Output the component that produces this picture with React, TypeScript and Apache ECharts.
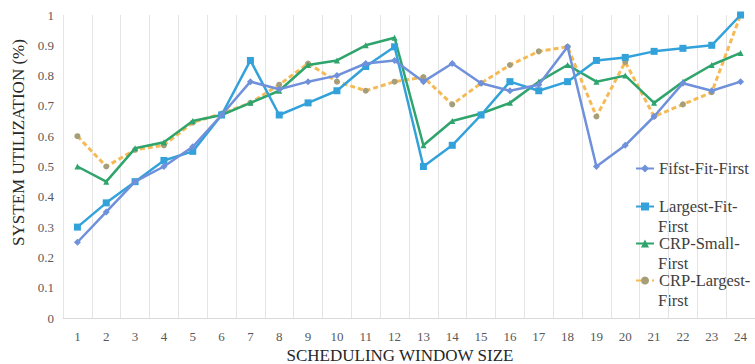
import React, { useEffect, useRef } from "react";
import * as echarts from "echarts";

const categories = ["1","2","3","4","5","6","7","8","9","10","11","12","13","14","15","16","17","18","19","20","21","22","23","24"];
const fifstFitFirst = [0.25,0.35,0.45,0.50,0.565,0.67,0.78,0.755,0.78,0.80,0.84,0.85,0.78,0.84,0.775,0.75,0.77,0.895,0.50,0.57,0.665,0.775,0.75,0.78];
const largestFitFirst = [0.30,0.38,0.45,0.52,0.55,0.67,0.85,0.67,0.71,0.75,0.83,0.895,0.50,0.57,0.67,0.78,0.75,0.78,0.85,0.86,0.88,0.89,0.90,1.00];
const crpSmallFirst = [0.50,0.45,0.56,0.58,0.65,0.67,0.71,0.75,0.835,0.85,0.90,0.925,0.57,0.65,0.675,0.71,0.78,0.835,0.78,0.80,0.71,0.78,0.835,0.875];
const crpLargestFirst = [0.60,0.50,0.555,0.57,0.645,0.675,0.71,0.77,0.84,0.78,0.75,0.78,0.795,0.705,0.775,0.835,0.88,0.895,0.665,0.845,0.665,0.705,0.745,1.00];
const yTicks = { min: 0, max: 1, interval: 0.1 };
const xTitle = "SCHEDULING WINDOW SIZE";
const yTitle = "SYSTEM UTILIZATION (%)";
const legendFirstLines = ["Fifst-Fit-First", "Largest-Fit-", "CRP-Small-", "CRP-Largest-"];
const legendSecondLines = ["", "First", "First", "First"];

const FONT = "Liberation Serif";

export default function App() {
  const ref = useRef<HTMLDivElement>(null);
  useEffect(() => {
    if (!ref.current) return;
    const chart = echarts.init(ref.current, undefined, { renderer: "svg" });
    const names = ["Fifst-Fit-First", "Largest-Fit-First", "CRP-Small-First", "CRP-Largest-First"];
    const firstLineCenters = [168, 206, 243, 280];
    const legends = names.map((n, i) => ({
      orient: "vertical" as const,
      left: 635,
      top: firstLineCenters[i] - 8,
      padding: 0,
      itemWidth: 18,
      itemHeight: 10,
      data: [{ name: n }],
      formatter: () => legendFirstLines[i],
      textStyle: { fontFamily: FONT, fontSize: 16.5, color: "#404040", lineHeight: 16 },
    }));
    const secondLineTexts = legendSecondLines
      .map((t, i) => ({ t, i }))
      .filter((o) => o.t)
      .map((o) => ({
        type: "text",
        x: 658,
        y: firstLineCenters[o.i] + 20,
        style: { text: o.t, fontFamily: FONT, fontSize: 16.5, lineHeight: 16, fill: "#404040", align: "left", verticalAlign: "middle" },
      }));
    chart.setOption({
      animation: false,
      backgroundColor: "#ffffff",
      grid: { left: 63, top: 15, width: 699, height: 303 },
      xAxis: {
        type: "category",
        data: categories,
        boundaryGap: true,
        axisTick: { show: false },
        axisLine: { lineStyle: { color: "#D9D9D9", width: 1 } },
        axisLabel: { fontFamily: FONT, fontSize: 13, color: "#595959", margin: 12, interval: 0 },
        splitLine: { show: true, interval: 0, lineStyle: { color: "#E4E4E4", width: 1 } },
      },
      yAxis: {
        type: "value",
        min: yTicks.min,
        max: yTicks.max,
        interval: yTicks.interval,
        axisLine: { show: false },
        axisTick: { show: false },
        splitLine: { show: false },
        axisLabel: { fontFamily: FONT, fontSize: 13, color: "#595959", margin: 9 },
      },
      legend: legends,
      graphic: [
        { type: "text", x: 400, y: 355, style: { text: xTitle, fontFamily: FONT, fontSize: 17, fill: "#262626", align: "center", verticalAlign: "middle" } },
        { type: "text", x: 18.5, y: 142.5, rotation: Math.PI / 2, style: { text: yTitle, fontFamily: FONT, fontSize: 17, fill: "#262626", align: "center", verticalAlign: "middle" } },
        ...secondLineTexts,
      ],
      series: [
        {
          name: "Fifst-Fit-First", type: "line", data: fifstFitFirst,
          symbol: "diamond", symbolSize: 7,
          lineStyle: { color: "#6F90DA", width: 2.5 },
          itemStyle: { color: "#6F90DA" }, z: 4,
        },
        {
          name: "Largest-Fit-First", type: "line", data: largestFitFirst,
          symbol: "rect", symbolSize: 7,
          lineStyle: { color: "#33A2DA", width: 2.5 },
          itemStyle: { color: "#33A2DA" }, z: 3,
        },
        {
          name: "CRP-Small-First", type: "line", data: crpSmallFirst,
          symbol: "triangle", symbolSize: 6,
          lineStyle: { color: "#2FA46C", width: 2.5 },
          itemStyle: { color: "#2FA46C" }, z: 2,
        },
        {
          name: "CRP-Largest-First", type: "line", data: crpLargestFirst,
          symbol: "circle", symbolSize: 6,
          lineStyle: { color: "#F5BA55", width: 3, type: [5, 3] },
          itemStyle: { color: "#A59E78" }, z: 1,
        },
      ],
    });
    return () => chart.dispose();
  }, []);
  return <div ref={ref} style={{ position: "absolute", left: 0, top: 0, width: 755, height: 364 }} />;
}
